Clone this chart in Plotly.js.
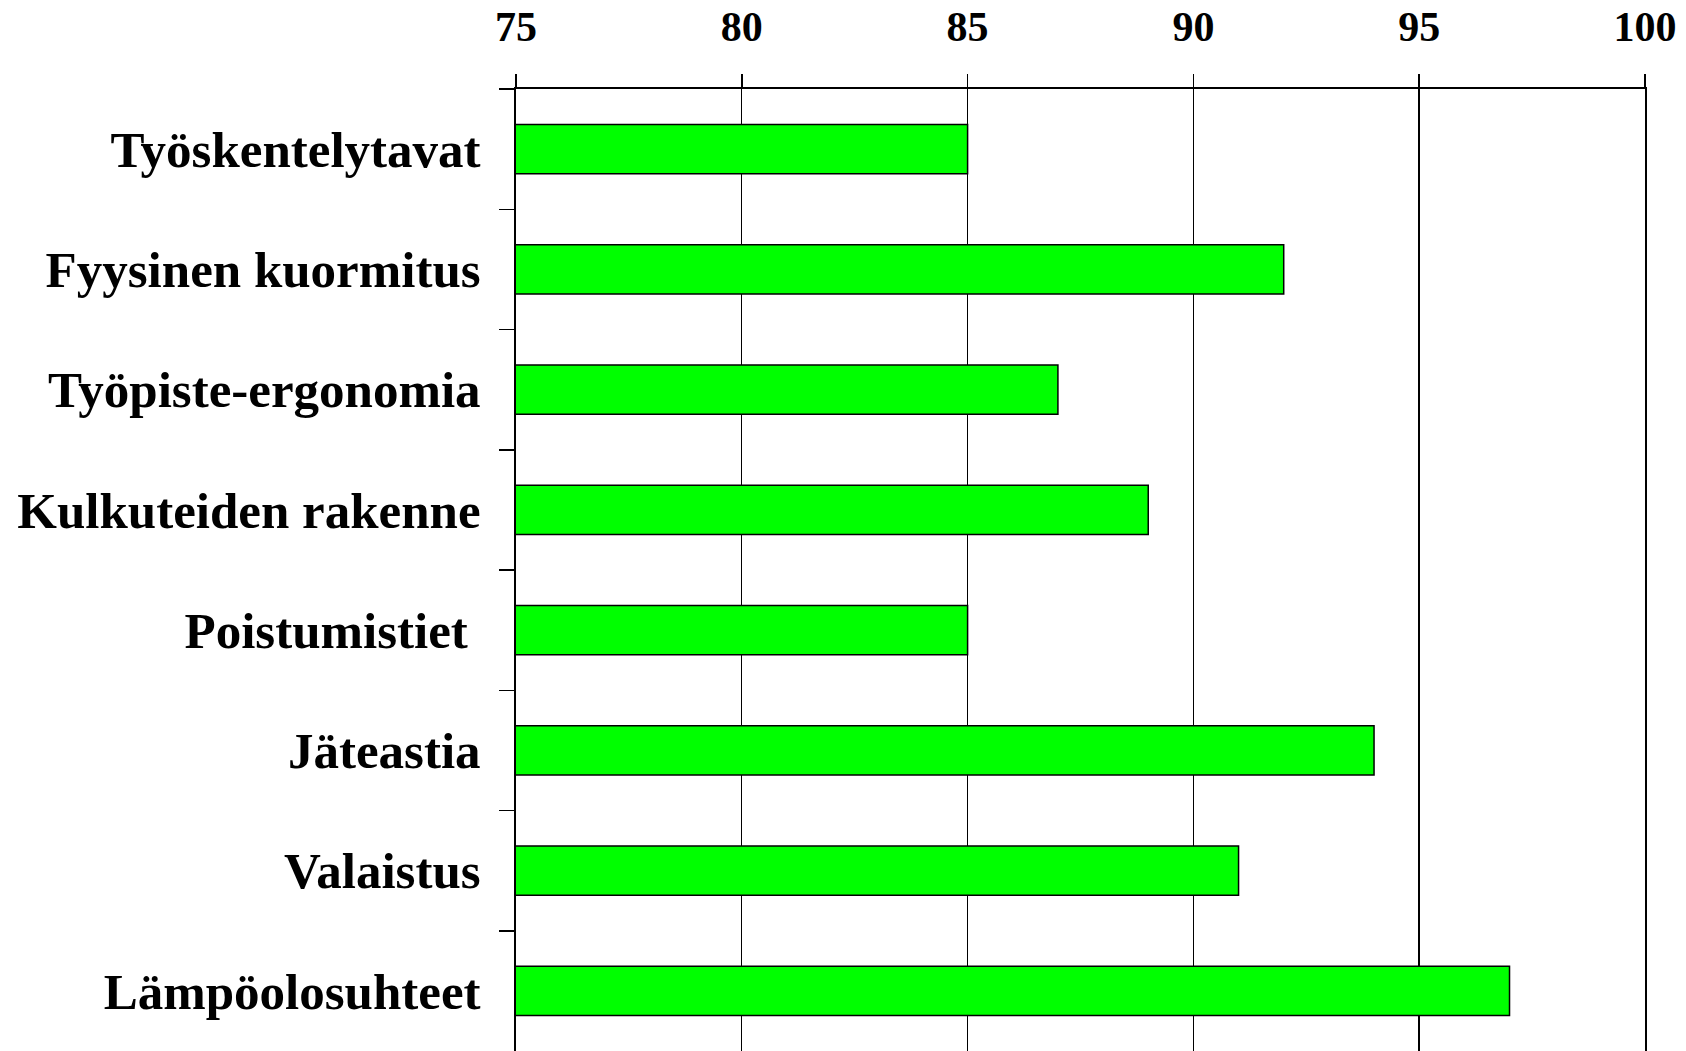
<!DOCTYPE html>
<html>
<head>
<meta charset="utf-8">
<script src="https://cdn.plot.ly/plotly-3.0.1.min.js"></script>
<style>html,body{margin:0;padding:0;background:#fff;}#chart{width:1686px;height:1051px;}</style>
</head>
<body>
<div id="chart"></div>
<script>
const categories = ["Työskentelytavat", "Fyysinen kuormitus", "Työpiste-ergonomia", "Kulkuteiden rakenne", "Poistumistiet\u00a0", "Jäteastia", "Valaistus", "Lämpöolosuhteet"];
const values = [85, 92, 87, 89, 85, 94, 91, 97];
const xTicks = [75, 80, 85, 90, 95, 100];

const family = "Liberation Serif, Times New Roman, serif";

Plotly.newPlot("chart", [{
  type: "bar",
  orientation: "h",
  y: categories,
  x: values,
  width: 0.41,
  marker: {color: "#00ff00", line: {color: "#000", width: 1.5}},
  hoverinfo: "none"
}], {
  width: 1686, height: 1051,
  margin: {l: 516, r: 41, t: 89, b: 0, pad: 0},
  paper_bgcolor: "#fff", plot_bgcolor: "#fff",
  showlegend: false,
  font: {family: family, size: 40, color: "#000"},
  xaxis: {
    side: "top", range: [75, 100], tickvals: xTicks, ticktext: xTicks.map(String),
    showgrid: true, gridcolor: "#000", gridwidth: 1.4,
    showline: true, linecolor: "#000", linewidth: 2.5,
    ticks: "outside", ticklen: 13, tickwidth: 1.5, tickcolor: "#000",
    ticklabelstandoff: 16,
    tickfont: {family: family, size: 42, color: "#000", weight: "bold"},
    zeroline: false, fixedrange: true
  },
  yaxis: {
    type: "category", autorange: false, range: [7.5, -0.5],
    showgrid: false, showline: true, mirror: true, linecolor: "#000", linewidth: 2.2,
    ticks: "outside", tickson: "boundaries", ticklen: 15, tickwidth: 1.5, tickcolor: "#000",
    ticklabelstandoff: 23,
    tickfont: {family: family, size: 51, color: "#000", weight: "bold"},
    zeroline: false, fixedrange: true
  }
}, {displayModeBar: false, staticPlot: true});
</script>
</body>
</html>
